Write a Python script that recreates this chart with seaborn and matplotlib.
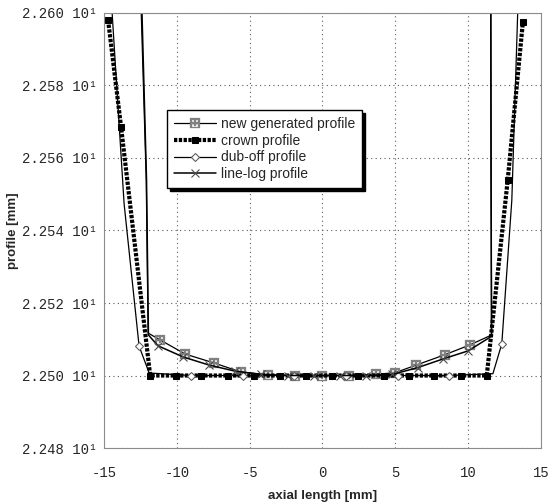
import matplotlib
matplotlib.use("Agg")
import matplotlib.pyplot as plt
import seaborn as sns

# values (x: axial length in mm, y: profile in mm)
crown_x = [-14.72, -13.83, -11.83, -10.03, -8.31, -6.52, -4.72, -2.93, -1.14,
           0.66, 2.45, 4.21, 5.97, 7.69, 9.48, 11.28, 12.72, 13.76]
crown_y = [22.5981, 22.5686, 22.5000, 22.5000, 22.5000, 22.5000, 22.5000, 22.5000, 22.5000,
           22.5000, 22.5000, 22.5000, 22.5000, 22.5000, 22.5000, 22.5000, 22.5540, 22.5975]

dub_x = [-14.45, -13.62, -12.59, -11.90, -9.04, -5.49, -1.94, 1.61, 5.16,
         8.71, 11.70, 12.31, 13.00, 13.41]
dub_y = [22.6005, 22.5474, 22.5081, 22.5007, 22.5000, 22.5000, 22.5000, 22.5000, 22.5000,
         22.5000, 22.5005, 22.5087, 22.5484, 22.6010]

new_x = [-12.45, -12.10, -11.97, -11.14, -9.41, -7.48, -5.62, -3.75, -1.90, -0.05,
         1.80, 3.65, 5.00, 6.45, 8.38, 10.10, 11.62, 11.57, 11.55]
new_y = [22.6010, 22.5540, 22.5117, 22.5098, 22.5059, 22.5035, 22.5010, 22.5002, 22.5000, 22.5000,
         22.5000, 22.5003, 22.5008, 22.5029, 22.5057, 22.5084, 22.5112, 22.5540, 22.6010]

log_x = [-12.40, -12.08, -11.95, -11.30, -9.55, -7.80, -6.00, -4.20, -2.40, -0.60,
         1.20, 3.00, 4.80, 6.55, 8.30, 10.00, 11.60, 11.58, 11.56]
log_y = [22.6010, 22.5540, 22.5112, 22.5082, 22.5051, 22.5029, 22.5012, 22.5003, 22.5000, 22.5000,
         22.5000, 22.5000, 22.5003, 22.5022, 22.5046, 22.5068, 22.5108, 22.5540, 22.6010]

y_ticks = [22.48, 22.50, 22.52, 22.54, 22.56, 22.58, 22.60]
x_ticks = [-15, -10, -5, 0, 5, 10, 15]

sns.set_style("white")
plt.rcParams["font.family"] = ["Liberation Sans", "DejaVu Sans"]

fig = plt.figure(figsize=(5.52, 5.03), dpi=100)
ax = fig.add_axes([0.1884, 0.1093, 0.7916, 0.8649])

sns.lineplot(x=new_x, y=new_y, ax=ax, sort=False, estimator=None, color="black",
             lw=0.9, marker=r"$\boxplus$", ms=6.5, mec="0.5", mfc="0.5", mew=0.2,
             markevery=list(range(3, 16)), label="new generated profile")
sns.lineplot(x=crown_x, y=crown_y, ax=ax, sort=False, estimator=None, color="black",
             lw=3.0, linestyle=(0, (0.8, 0.35)), marker="s", ms=4.5, mfc="black", mec="black",
             label="crown profile")
sns.lineplot(x=dub_x, y=dub_y, ax=ax, sort=False, estimator=None, color="black",
             lw=0.9, marker="D", ms=4.5, mfc="white", mec="0.35",
             markevery=[2, 4, 5, 6, 7, 8, 9, 11], label="dub-off profile")
sns.lineplot(x=log_x, y=log_y, ax=ax, sort=False, estimator=None, color="black",
             lw=1.1, marker="x", ms=5.5, mec="0.3", mew=0.8,
             markevery=list(range(3, 16)), label="line-log profile")

ax.set_xlim(-15, 15)
ax.set_ylim(22.48, 22.60)
ax.set_xticks(x_ticks)
ax.set_yticks(y_ticks)
ax.set_xticklabels([str(t) for t in x_ticks], family="Liberation Mono", fontsize=10)
ax.set_yticklabels([f"{v / 10:.3f} 10\u00b9" for v in y_ticks],
                   family="Liberation Mono", fontsize=10)
ax.tick_params(axis="x", length=0, pad=13)
ax.tick_params(axis="y", length=0, pad=5)

ax.grid(True, linestyle=(0, (1, 3)), color="0.35", lw=0.8)
for sp in ax.spines.values():
    sp.set_color("0.55")
    sp.set_linewidth(0.8)

ax.set_xlabel("axial length [mm]", fontsize=9.5, fontweight="bold")
ax.set_ylabel("profile [mm]", fontsize=9.5, fontweight="bold")
ax.xaxis.set_label_coords(0.5, -0.097)
ax.yaxis.set_label_coords(-0.195, 0.5)

leg = ax.legend(loc="upper left", bbox_to_anchor=(0.144, 0.777), borderaxespad=0,
                fancybox=False, shadow={"color": "black", "alpha": 1.0},
                edgecolor="black", framealpha=1, fontsize=10, handlelength=3.0,
                handletextpad=0.4, labelspacing=0.2, borderpad=0.5)
leg.get_frame().set_linewidth(1.0)

fig.savefig("out.png", dpi=100)
